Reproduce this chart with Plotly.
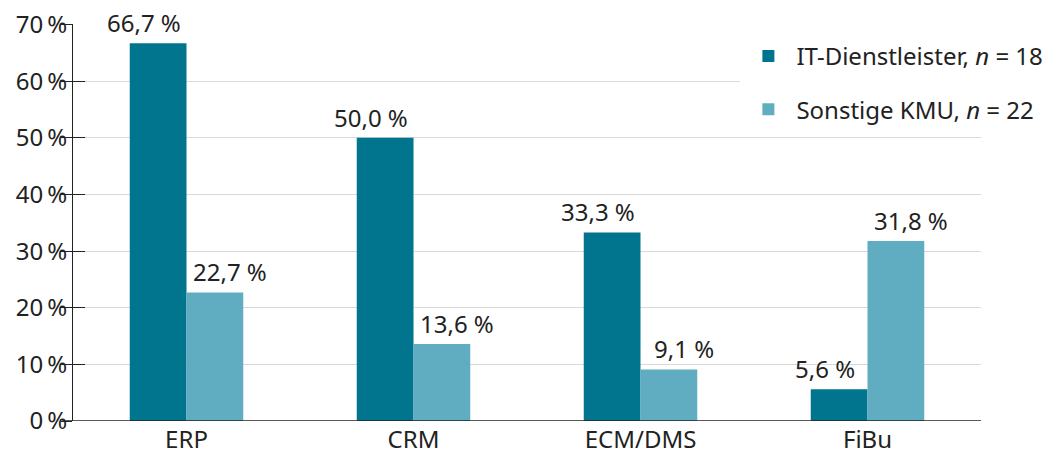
import plotly.graph_objects as go

# Daten
kategorien = ['ERP', 'CRM', 'ECM/DMS', 'FiBu']
it_dienstleister = [66.7, 50.0, 33.3, 5.6]
sonstige_kmu = [22.7, 13.6, 9.1, 31.8]
namen = ['IT-Dienstleister, <i>n</i> = 18', 'Sonstige KMU, <i>n</i> = 22']
y_ticks = [0, 10, 20, 30, 40, 50, 60, 70]

farben = ['#00758D', '#60ACC0']
schrift = dict(family='Noto Sans, Open Sans, sans-serif', size=24, color='#222222')


def fmt(v):
    return f'{v:.1f}'.replace('.', ',') + ' %'


fig = go.Figure()
for i, werte in enumerate([it_dienstleister, sonstige_kmu]):
    fig.add_trace(go.Bar(
        x=kategorien,
        y=werte,
        name=namen[i],
        legendgroup=str(i),
        marker=dict(color=farben[i], line=dict(width=0)),
    ))

# Beschriftungen ueber den Balken, etwas nach aussen versetzt wie im Original
versatz = [-43, 43]
for i, werte in enumerate([it_dienstleister, sonstige_kmu]):
    for k, v in zip(kategorien, werte):
        fig.add_annotation(
            x=k, y=v, xref='x', yref='y', text=fmt(v), showarrow=False,
            yanchor='bottom', xanchor='center', yshift=2, xshift=versatz[i],
            font=schrift,
        )

# zweite Achse nur fuer die nach aussen zeigenden Tickstriche
fig.add_trace(go.Scatter(x=[None], y=[None], yaxis='y2', showlegend=False))

# die Seite hat 8px Rand, deshalb Groesse und Raender etwas kleiner
fig.update_layout(
    width=1055, height=448,
    margin=dict(l=65, r=82, t=16, b=35),
    paper_bgcolor='white', plot_bgcolor='white',
    font=schrift,
    barmode='group',
    bargap=0.5, bargroupgap=0,
    showlegend=True,
    legend=dict(
        x=0.735, y=0.975, xanchor='left', yanchor='top',
        bgcolor='white', font=schrift,
        traceorder='grouped', tracegroupgap=19,
        itemwidth=46,
    ),
    xaxis=dict(
        showline=False, ticks='', showgrid=False,
        tickfont=schrift, automargin=False, ticklabelstandoff=2,
    ),
    yaxis=dict(
        range=[0, 70.1], tickvals=y_ticks,
        ticktext=[f'{t}\u202f%' for t in y_ticks],
        showgrid=True, gridcolor='#d9d9d9', gridwidth=1,
        ticks='inside', ticklen=12, tickcolor='#222222', tickwidth=1,
        showline=True, linecolor='#222222', linewidth=1,
        zeroline=False, tickfont=schrift, ticklabelstandoff=0,
        automargin=False, ticklabeloverflow='allow',
    ),
    yaxis2=dict(
        range=[0, 70.1], tickvals=y_ticks, overlaying='y', side='left',
        showticklabels=False, showgrid=False, zeroline=False,
        ticks='outside', ticklen=11, tickcolor='#222222', tickwidth=1,
        automargin=False,
    ),
    shapes=[dict(type='line', xref='paper', yref='y', x0=-0.012, x1=1,
                 y0=0, y1=0, line=dict(color='#222222', width=1.5))],
)

fig.write_html('out.html')
